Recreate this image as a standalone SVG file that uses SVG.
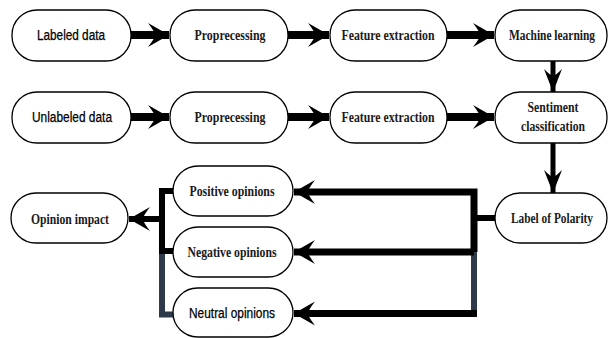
<svg xmlns="http://www.w3.org/2000/svg" width="610" height="338" viewBox="0 0 610 338">
<style>
.box{fill:#fff;stroke:#000;stroke-width:1.3}
.s{font-family:"Liberation Sans",Arial,sans-serif;font-size:14px;fill:#000;stroke:#000;stroke-width:0.25}
.b{font-family:"Liberation Serif","Times New Roman",serif;font-size:14px;font-weight:bold;fill:#1a1a1a}
.c{fill:none;stroke:#000}
.sl{fill:none;stroke:#2e3a4c}
</style>
<defs>
<marker id="ah" markerUnits="userSpaceOnUse" viewBox="-24 -13 26 26" refX="0" refY="0" markerWidth="26" markerHeight="26" orient="auto">
<path d="M0,0 L-21,-12 Q-14,-3 -14,0 Q-14,3 -21,12 Z" fill="#000"/>
</marker>
<marker id="av" markerUnits="userSpaceOnUse" viewBox="-25 -10 27 20" refX="0" refY="0" markerWidth="27" markerHeight="20" orient="auto">
<path d="M0,0 L-23,-9 Q-16,-2 -16,0 Q-16,2 -23,9 Z" fill="#000"/>
</marker>
</defs>
<g id="connectors">
<path class="c" stroke-width="8" marker-end="url(#ah)" d="M131,35 H169"/>
<path class="c" stroke-width="8" marker-end="url(#ah)" d="M288,35 H329"/>
<path class="c" stroke-width="8" marker-end="url(#ah)" d="M447,35 H494"/>
<path class="c" stroke-width="8" marker-end="url(#ah)" d="M131,117 H169"/>
<path class="c" stroke-width="8" marker-end="url(#ah)" d="M288,117 H329"/>
<path class="c" stroke-width="8" marker-end="url(#ah)" d="M447,117 H494"/>
<path class="c" stroke-width="5" marker-end="url(#av)" d="M553,61 V92"/>
<path class="c" stroke-width="5" marker-end="url(#av)" d="M553,143 V193"/>
<path class="c" stroke-width="6" d="M495,218 H474"/>
<path class="sl" stroke-width="6" d="M474,251 V317"/>
<path class="c" stroke-width="7" marker-end="url(#ah)" d="M474,252 V192 H294"/>
<path class="c" stroke-width="7" marker-end="url(#ah)" d="M474,252 H294"/>
<path class="c" stroke-width="7" marker-end="url(#ah)" d="M477,313.5 H294"/>
<path class="sl" stroke-width="6" d="M162,250 V314.5 H174"/>
<path class="c" stroke-width="6" stroke-linecap="round" d="M174,191 H162 V251 H174"/>
<path class="c" stroke-width="6" marker-end="url(#ah)" d="M162,219 H129"/>
</g>
<g id="n1"><rect class="box" x="12" y="10" width="119" height="51" rx="25"/><text class="s" x="71" y="40" text-anchor="middle" textLength="68" lengthAdjust="spacingAndGlyphs">Labeled data</text></g>
<g id="n2"><rect class="box" x="170" y="10" width="118" height="51" rx="25"/><text class="b" x="230" y="40" text-anchor="middle" textLength="71" lengthAdjust="spacingAndGlyphs">Proprecessing</text></g>
<g id="n3"><rect class="box" x="330" y="10" width="117" height="51" rx="25"/><text class="b" x="388" y="40" text-anchor="middle" textLength="93" lengthAdjust="spacingAndGlyphs">Feature extraction</text></g>
<g id="n4"><rect class="box" x="495" y="10" width="112" height="51" rx="25"/><text class="b" x="552" y="40" text-anchor="middle" textLength="86" lengthAdjust="spacingAndGlyphs">Machine learning</text></g>
<g id="n5"><rect class="box" x="12" y="92" width="119" height="51" rx="25"/><text class="s" x="72" y="122" text-anchor="middle" textLength="80" lengthAdjust="spacingAndGlyphs">Unlabeled data</text></g>
<g id="n6"><rect class="box" x="170" y="92" width="118" height="51" rx="25"/><text class="b" x="230" y="122" text-anchor="middle" textLength="71" lengthAdjust="spacingAndGlyphs">Proprecessing</text></g>
<g id="n7"><rect class="box" x="330" y="92" width="117" height="51" rx="25"/><text class="b" x="388" y="122" text-anchor="middle" textLength="93" lengthAdjust="spacingAndGlyphs">Feature extraction</text></g>
<g id="n8"><rect class="box" x="495" y="92" width="112" height="51" rx="25"/><text class="b" x="553" y="112" text-anchor="middle" textLength="51" lengthAdjust="spacingAndGlyphs">Sentiment</text><text class="b" x="553" y="131" text-anchor="middle" textLength="64" lengthAdjust="spacingAndGlyphs">classification</text></g>
<g id="n9"><rect class="box" x="495" y="193" width="112" height="50" rx="25"/><text class="b" x="552" y="223" text-anchor="middle" textLength="82" lengthAdjust="spacingAndGlyphs">Label of Polarity</text></g>
<g id="n10"><rect class="box" x="173" y="166" width="120" height="50" rx="25"/><text class="b" x="232" y="196" text-anchor="middle" textLength="85" lengthAdjust="spacingAndGlyphs">Positive opinions</text></g>
<g id="n11"><rect class="box" x="173" y="227" width="120" height="50" rx="25"/><text class="b" x="232" y="257" text-anchor="middle" textLength="89" lengthAdjust="spacingAndGlyphs">Negative opinions</text></g>
<g id="n12"><rect class="box" x="173" y="288" width="120" height="49" rx="24.5"/><text class="s" x="232" y="318" text-anchor="middle" textLength="86" lengthAdjust="spacingAndGlyphs">Neutral opinions</text></g>
<g id="n13"><rect class="box" x="11" y="193" width="117" height="50" rx="25"/><text class="b" x="70" y="224" text-anchor="middle" textLength="78" lengthAdjust="spacingAndGlyphs">Opinion impact</text></g>
</svg>
